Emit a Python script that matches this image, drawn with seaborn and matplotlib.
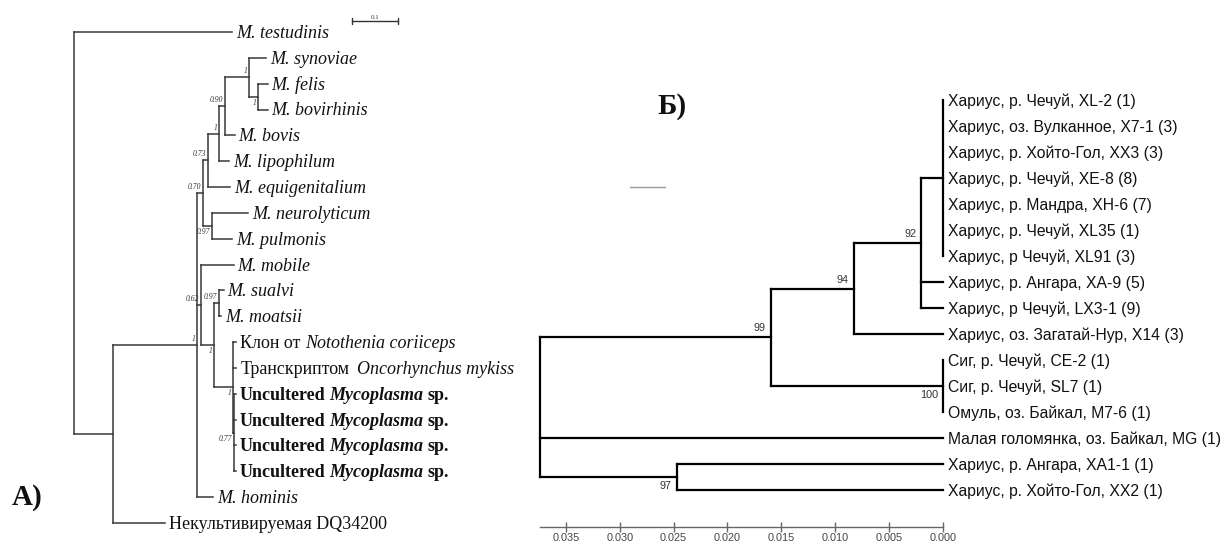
import matplotlib
matplotlib.use("Agg")
import matplotlib.pyplot as plt
import pandas as pd
import seaborn as sns
from matplotlib.transforms import offset_copy

# ---------------- Panel А: Mycoplasma tree (branch lengths, subst./site) ----------------
A_NODES = ["root", "M_testudinis", "nA", "nB", "nC", "nD", "nE", "nT", "nS",
           "M_synoviae", "nF", "M_felis", "M_bovirhinis", "M_bovis", "M_lipophilum",
           "M_equigenitalium", "nG", "M_neurolyticum", "M_pulmonis", "nH", "M_mobile",
           "nI", "nJ", "M_sualvi", "M_moatsii", "nK", "clone_Notothenia",
           "transcr_Oncorhynchus", "nL", "uncult_1", "uncult_2", "uncult_3", "uncult_4",
           "M_hominis", "DQ34200"]
A_PARENTS = [None, "root", "root", "nA", "nB", "nC", "nD", "nE", "nT",
             "nS", "nS", "nF", "nF", "nT", "nE",
             "nD", "nC", "nG", "nG", "nB", "nH",
             "nH", "nI", "nJ", "nJ", "nI", "nK",
             "nK", "nK", "nL", "nL", "nL", "nL",
             "nB", "nA"]
A_LENGTHS = [0.0, 0.343, 0.085, 0.183, 0.013, 0.011, 0.024, 0.013, 0.052,
             0.037, 0.020, 0.020, 0.020, 0.020, 0.022,
             0.048, 0.020, 0.078, 0.043, 0.009, 0.070,
             0.028, 0.011, 0.009, 0.004, 0.041, 0.007,
             0.007, 0.002, 0.004, 0.004, 0.004, 0.004,
             0.035, 0.113]
A_SUPPORT = ["", "", "", "1", "0.70", "0.73", "1", "0.90", "1",
             "", "1", "", "", "", "",
             "", "0.97", "", "", "0.62", "",
             "1", "0.97", "", "", "1", "",
             "", "0.77", "", "", "", "",
             "", ""]
UNCULT = [("Uncultered ", "normal", "bold"), ("Mycoplasma", "italic", "bold"),
          (" sp.", "normal", "bold")]
A_CAPTIONS = {
    "M_testudinis": [("M. testudinis", "italic", "normal")],
    "M_synoviae": [("M. synoviae", "italic", "normal")],
    "M_felis": [("M. felis", "italic", "normal")],
    "M_bovirhinis": [("M. bovirhinis", "italic", "normal")],
    "M_bovis": [("M. bovis", "italic", "normal")],
    "M_lipophilum": [("M. lipophilum", "italic", "normal")],
    "M_equigenitalium": [("M. equigenitalium", "italic", "normal")],
    "M_neurolyticum": [("M. neurolyticum", "italic", "normal")],
    "M_pulmonis": [("M. pulmonis", "italic", "normal")],
    "M_mobile": [("M. mobile", "italic", "normal")],
    "M_sualvi": [("M. sualvi", "italic", "normal")],
    "M_moatsii": [("M. moatsii", "italic", "normal")],
    "clone_Notothenia": [("Клон от ", "normal", "normal"),
                         ("Notothenia coriiceps", "italic", "normal")],
    "transcr_Oncorhynchus": [("Транскриптом  ", "normal", "normal"),
                             ("Oncorhynchus mykiss", "italic", "normal")],
    "uncult_1": UNCULT, "uncult_2": UNCULT, "uncult_3": UNCULT, "uncult_4": UNCULT,
    "M_hominis": [("M. hominis", "italic", "normal")],
    "DQ34200": [("Некультивируемая DQ34200", "normal", "normal")],
}
A_SCALE = 0.1

# ---------------- Panel Б: haplotype tree (node heights) ----------------
B_NODES = ["root", "n99", "n94", "n92", "nP",
           "XL-2", "X7-1", "XX3", "XE-8", "XH-6", "XL35", "XL91",
           "XA-9", "LX3-1", "X14", "n100", "CE-2", "SL7", "M7-6",
           "MG", "n97", "XA1-1", "XX2"]
B_PARENTS = [None, "root", "n99", "n94", "n92",
             "nP", "nP", "nP", "nP", "nP", "nP", "nP",
             "n92", "n92", "n94", "n99", "n100", "n100", "n100",
             "root", "root", "n97", "n97"]
B_HEIGHTS = [0.0374, 0.0160, 0.0083, 0.0020, 0.0,
             0.0, 0.0, 0.0, 0.0, 0.0, 0.0, 0.0,
             0.0, 0.0, 0.0, 0.0, 0.0, 0.0, 0.0,
             0.0, 0.0247, 0.0, 0.0]
B_SUPPORT = ["", "99", "94", "92", "",
             "", "", "", "", "", "", "",
             "", "", "", "100", "", "", "",
             "", "97", "", ""]
B_CAPTIONS = {
    "XL-2": "Хариус, р. Чечуй, XL-2 (1)",
    "X7-1": "Хариус, оз. Вулканное, X7-1 (3)",
    "XX3": "Хариус, р. Хойто-Гол, XX3 (3)",
    "XE-8": "Хариус, р. Чечуй, XE-8 (8)",
    "XH-6": "Хариус, р. Мандра, XH-6 (7)",
    "XL35": "Хариус, р. Чечуй, XL35 (1)",
    "XL91": "Хариус, р Чечуй, XL91 (3)",
    "XA-9": "Хариус, р. Ангара, XA-9 (5)",
    "LX3-1": "Хариус, р Чечуй, LX3-1 (9)",
    "X14": "Хариус, оз. Загатай-Нур, X14 (3)",
    "CE-2": "Сиг, р. Чечуй, CE-2 (1)",
    "SL7": "Сиг, р. Чечуй, SL7 (1)",
    "M7-6": "Омуль, оз. Байкал, M7-6 (1)",
    "MG": "Малая голомянка, оз. Байкал, MG (1)",
    "XA1-1": "Хариус, р. Ангара, XA1-1 (1)",
    "XX2": "Хариус, р. Хойто-Гол, XX2 (1)",
}
B_TICKS = [0.035, 0.030, 0.025, 0.020, 0.015, 0.010, 0.005, 0.000]


def layout(nodes, parents):
    children = {n: [] for n in nodes}
    for n, p in zip(nodes, parents):
        if p is not None:
            children[p].append(n)
    leaves = [n for n in nodes if not children[n]]
    y = {n: float(i) for i, n in enumerate(leaves)}
    for n in reversed(nodes):
        if children[n]:
            y[n] = (y[children[n][0]] + y[children[n][-1]]) / 2
    return children, leaves, y


def segments(nodes, parents, children, x, y):
    rows, k = [], 0
    for n, p in zip(nodes, parents):
        if p is not None and abs(x[n] - x[p]) > 1e-12:
            rows += [(x[p], y[n], k), (x[n], y[n], k)]
            k += 1
        if children[n]:
            ys = [y[c] for c in children[n]]
            rows += [(x[n], min(ys), k), (x[n], max(ys), k)]
            k += 1
    return pd.DataFrame(rows, columns=["x", "y", "seg"])


sns.set_theme(style="white")
plt.rcParams["font.family"] = ["Liberation Serif", "DejaVu Serif"]

W, H = 1226, 543
fig = plt.figure(figsize=(W / 100, H / 100), dpi=100)
renderer = fig.canvas.get_renderer()

# ---------- panel А ----------
axA = fig.add_axes([0, 0, 530 / W, 1])
chA, leavesA, yA = layout(A_NODES, A_PARENTS)
xA = {}
for n, p, L in zip(A_NODES, A_PARENTS, A_LENGTHS):
    xA[n] = 0.0 if p is None else xA[p] + L
segA = segments(A_NODES, A_PARENTS, chA, xA, yA)
sns.lineplot(data=segA, x="x", y="y", units="seg", estimator=None, sort=False,
             color="#383838", linewidth=1.1, ax=axA, solid_capstyle="projecting")
axA.set_xlim(-74 / 460, 456 / 460)
axA.set_ylim((543 - 32) / 25.84, -32 / 25.84)
axA.axis("off")

A_SIZE = 13
SPACE = 0.22 * A_SIZE * 100 / 72
for leaf in leavesA:
    off = 4.0
    for txt, style, weight in A_CAPTIONS[leaf]:
        core = txt.strip()
        lead = len(txt) - len(txt.lstrip())
        trail = len(txt) - len(txt.rstrip())
        off += lead * SPACE
        t = axA.text(xA[leaf], yA[leaf], core,
                     transform=offset_copy(axA.transData, fig=fig, x=off,
                                           y=-0.33 * A_SIZE * 100 / 72, units="dots"),
                     ha="left", va="baseline", fontsize=A_SIZE, fontstyle=style,
                     fontweight=weight, color="#111111", clip_on=False)
        off += t.get_window_extent(renderer=renderer).width
        off += trail * SPACE

for n, p, s in zip(A_NODES, A_PARENTS, A_SUPPORT):
    if not s:
        continue
    below = p is not None and chA[p][-1] == n
    axA.text(xA[n], yA[n], s,
             transform=offset_copy(axA.transData, fig=fig, x=-2,
                                   y=(-2 if below else 2), units="dots"),
             ha="right", va="top" if below else "bottom", fontsize=5.5,
             fontstyle="italic", color="#333333")

# scale bar
sb_x0, sb_y = 278 / 460, -11 / 25.84
axA.plot([sb_x0, sb_x0 + A_SCALE], [sb_y, sb_y], color="#333333", lw=1.0)
for xe in (sb_x0, sb_x0 + A_SCALE):
    axA.plot([xe, xe], [sb_y - 0.1, sb_y + 0.1], color="#333333", lw=1.0)
axA.text(sb_x0 + A_SCALE / 2, sb_y, f"{A_SCALE:g}",
         transform=offset_copy(axA.transData, fig=fig, y=1, units="dots"),
         ha="center", va="bottom", fontsize=5, color="#333333")

# ---------- panel Б ----------
axB = fig.add_axes([540 / W, (543 - 527) / H, 403 / W, (527 - 80) / H])
chB, leavesB, yB = layout(B_NODES, B_PARENTS)
xB = dict(zip(B_NODES, B_HEIGHTS))
segB = segments(B_NODES, B_PARENTS, chB, xB, yB)
sns.lineplot(data=segB, x="x", y="y", units="seg", estimator=None, sort=False,
             color="black", linewidth=1.6, ax=axB, solid_capstyle="projecting",
             clip_on=False)
axB.set_xlim(0.0374, 0.0)
axB.set_ylim(16.42, -0.77)
axB.set_xlabel("")
axB.set_ylabel("")
for side in ("top", "right", "left"):
    axB.spines[side].set_visible(False)
axB.spines["bottom"].set_color("#666666")
axB.spines["bottom"].set_linewidth(1.0)
axB.set_yticks([])
axB.set_xticks(B_TICKS)
axB.set_xticklabels([f"{t:.3f}" for t in B_TICKS], fontsize=7.8,
                    family=["Liberation Sans", "DejaVu Sans"], color="#444444")
axB.tick_params(axis="x", direction="inout", length=7, width=1.0,
                color="#666666", pad=0.5, bottom=True)

B_SIZE = 11.3
for leaf in leavesB:
    axB.text(xB[leaf], yB[leaf], B_CAPTIONS[leaf],
             transform=offset_copy(axB.transData, fig=fig, x=5,
                                   y=-0.36 * B_SIZE * 100 / 72, units="dots"),
             ha="left", va="baseline", fontsize=B_SIZE, color="#111111",
             family=["Liberation Sans", "DejaVu Sans"], clip_on=False)

for n, p, s in zip(B_NODES, B_PARENTS, B_SUPPORT):
    if not s:
        continue
    below = p is not None and chB[p][-1] == n
    axB.text(xB[n], yB[n], s,
             transform=offset_copy(axB.transData, fig=fig, x=-5,
                                   y=(-4 if below else 4), units="dots"),
             ha="right", va="top" if below else "bottom", fontsize=7.8,
             color="#333333", family=["Liberation Sans", "DejaVu Sans"])

# leftover bar without label
axB.plot([0.02905, 0.0258], [3.35, 3.35], color="#9a9a9a", lw=1.0)

# panel letters
fig.text(12 / W, 1 - 505 / H, "А)", fontsize=21, fontweight="bold",
         ha="left", va="baseline", color="#111111")
fig.text(657 / W, 1 - 114 / H, "Б)", fontsize=21, fontweight="bold",
         ha="left", va="baseline", color="#111111")

fig.savefig("out.png", dpi=100, facecolor="white")
